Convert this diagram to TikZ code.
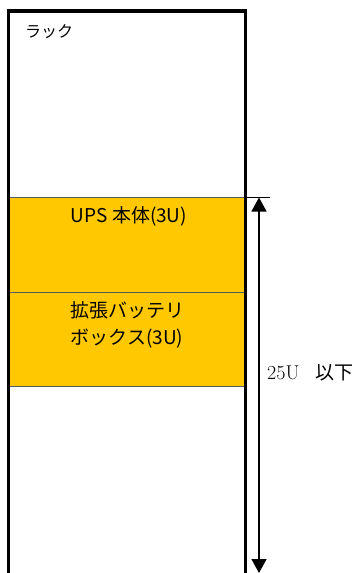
\documentclass[tikz,border=0pt]{standalone}
\usepackage{fontspec}
\newfontfamily\jpfont{Noto Sans CJK JP}
\usetikzlibrary{positioning,arrows.meta}
\definecolor{upsyellow}{HTML}{FFC800}
\definecolor{boxline}{HTML}{5A5A5A}
\tikzset{
	unitbox/.style={draw=boxline,line width=.9pt,fill=upsyellow,minimum width=237pt,minimum height=94.5pt,inner sep=0pt,outer sep=0pt,anchor=north west},
	boxtext/.style={font=\jpfont\fontsize{19}{27.5}\selectfont,align=center,inner sep=0pt,anchor=base}
}
\begin{document}
\begin{tikzpicture}[x=1pt,y=1pt,>={Triangle[width=15pt,length=14pt]}]
	\useasboundingbox (0,0) rectangle (356,-573);
	\clip (0,0) rectangle (356,-573);
	
	\begin{scope}
		\node[unitbox] (ups) at (8.5,-197.5) {};
		\node[unitbox] (battery) at (ups.south west) {};
		\node[boxtext] (upstext) at ([xshift=2pt,yshift=-24.5pt]ups.north) {UPS 本体(3U)};
		% base of a two-line node sits on its last line
		\node[boxtext] (batterytext) at ([yshift=-52.5pt]battery.north) {拡張バッテリ\\ボックス(3U)};
	\end{scope}
	
	\begin{scope}
		\draw[line width=3.8pt] (8.5,-590) -- (8.5,-11) -- (245.5,-11) -- (245.5,-590);
		\node[font=\jpfont\fontsize{16}{18}\selectfont,anchor=base west,inner sep=0pt] (rack) at (25,-37) {ラック};
	\end{scope}
	
	\coordinate (top) at (270,-197.5);
	\coordinate (arrowtop) at (259,-197.5);
	\coordinate (arrowbottom) at (259,-573);
	\draw[line width=1.3pt] (ups.north east) -- (top);
	\draw[<->,line width=1.3pt] (arrowtop) -- (arrowbottom);
	\node[anchor=base west,inner sep=0pt,font=\fontsize{20}{22}\selectfont] (height) at (267,-379) {25U\hspace{16pt}{\jpfont\fontsize{19}{22}\selectfont 以下}};
	
\end{tikzpicture}
\end{document}
